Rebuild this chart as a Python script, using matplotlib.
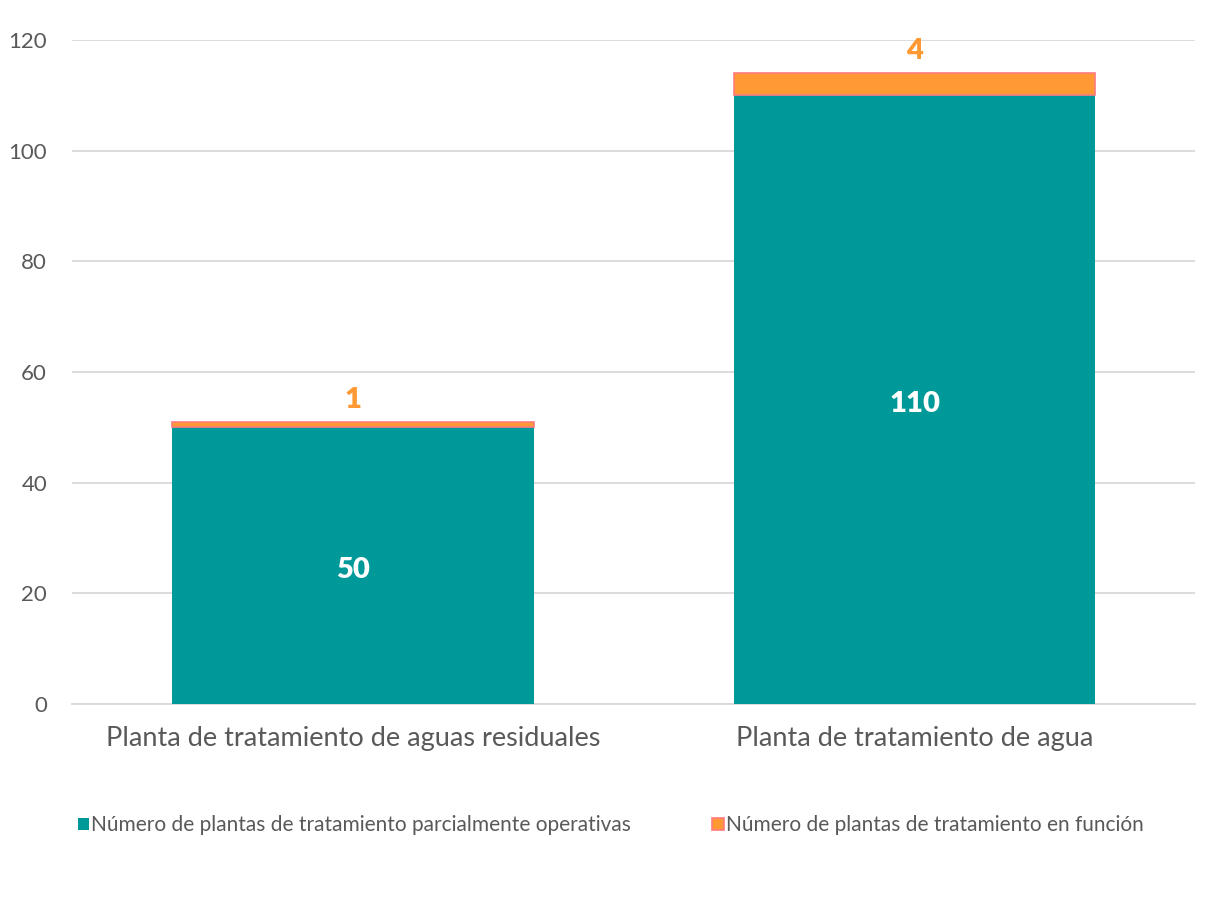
import matplotlib.pyplot as plt
import numpy as np

# plant categories and counts per status
categories = ["Planta de tratamiento de aguas residuales", "Planta de tratamiento de agua"]
parcial = [50, 110]
en_funcion = [1, 4]
series_names = [
    "Número de plantas de tratamiento parcialmente operativas",
    "Número de plantas de tratamiento en función",
]

teal = "#009999"
orange = "#FF9933"
edge_pink = "#FF7C80"
grey_text = "#595959"

plt.rcParams["font.family"] = ["Lato", "DejaVu Sans"]

fig = plt.figure(figsize=(12.21, 9.01), dpi=100)
ax = fig.add_axes([0.059, 0.2186, 0.92, 0.737])

x = np.arange(len(categories))
width = 0.644

b1 = ax.bar(x, parcial, width, color=teal, label=series_names[0], zorder=3)
b2 = ax.bar(x, en_funcion, width, bottom=parcial, color=orange,
            edgecolor=edge_pink, linewidth=1.2, label=series_names[1], zorder=3)

# value labels: white inside teal bars, orange above the top segment
for xi, p, f in zip(x, parcial, en_funcion):
    ax.text(xi, p / 2 - 0.8, str(p), ha="center", va="center", color="white",
            fontsize=21, fontweight="heavy", zorder=4)
    ax.text(xi, p + f + 1.6, str(f), ha="center", va="bottom", color=orange,
            fontsize=21, fontweight="heavy", zorder=4)

ax.set_xlim(-0.5, 1.5)
ax.set_ylim(0, 120)
ax.set_yticks(range(0, 121, 20))
ax.set_xticks(x)
ax.set_xticklabels(categories, fontsize=19.5, color=grey_text)
ax.tick_params(axis="y", labelsize=16, labelcolor=grey_text, length=0, pad=18)
ax.tick_params(axis="x", length=0, pad=16)
ax.grid(axis="y", color="#D9D9D9", linewidth=1.3, zorder=0)
for s in ["top", "right", "left"]:
    ax.spines[s].set_visible(False)
ax.spines["bottom"].set_color("#D9D9D9")
ax.spines["bottom"].set_linewidth(1.3)

fig.legend(handles=[b1, b2], labels=series_names, loc="center",
           bbox_to_anchor=(0.5, 0.084), ncol=2, frameon=False,
           fontsize=15, handlelength=0.55, handleheight=0.55,
           handletextpad=0.1, columnspacing=3.9, labelcolor=grey_text)

fig.savefig("out.png", dpi=100)
